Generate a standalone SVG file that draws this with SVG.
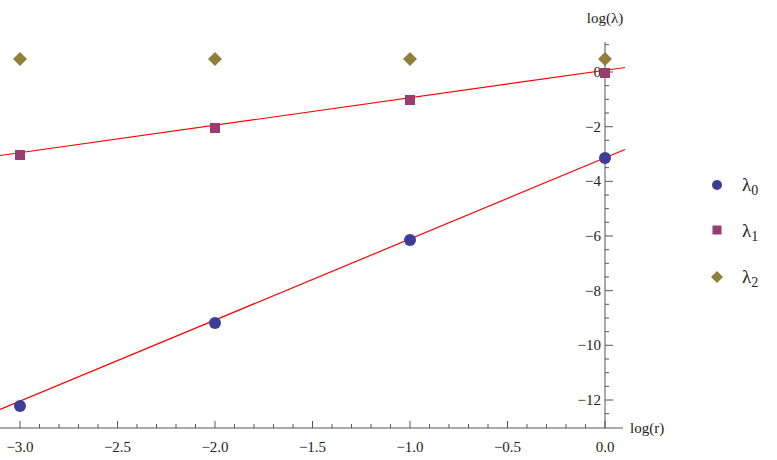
<svg xmlns="http://www.w3.org/2000/svg" width="777" height="460" viewBox="0 0 777 460" font-family="Liberation Serif, Times New Roman, DejaVu Serif, serif">
<style>
text{font-family:'Liberation Serif','Times New Roman','DejaVu Serif',serif;fill:#222}
.t{font-size:15px}
.ax{stroke:#555;stroke-width:1;fill:none}
.fit{stroke:#f00;stroke-width:1.2;fill:none}
.c0{fill:#3d3d99}.c1{fill:#993d6f}.c2{fill:#8f7f3a}
</style>
<rect width="777" height="460" fill="#fff"/>
<g id="axes">
<path class="ax" d="M0 428H623M605 42V428"/>
<path class="ax" d="M20 428v-7M117.5 428v-7M215 428v-7M312.5 428v-7M410 428v-7M507.5 428v-7M605 428v-7"/>
<path class="ax" d="M39.5 428v-4M59 428v-4M78.5 428v-4M98 428v-4M137 428v-4M156.5 428v-4M176 428v-4M195.5 428v-4M234.5 428v-4M254 428v-4M273.5 428v-4M293 428v-4M332 428v-4M351.5 428v-4M371 428v-4M390.5 428v-4M429.5 428v-4M449 428v-4M468.5 428v-4M488 428v-4M527 428v-4M546.5 428v-4M566 428v-4M585.5 428v-4"/>
<path class="ax" d="M605 72h8M605 126.7h8M605 181.3h8M605 236h8M605 290.7h8M605 345.3h8M605 400h8"/>
<path class="ax" d="M605 44.7h4M605 58.3h4M605 85.7h4M605 99.3h4M605 113h4M605 140.3h4M605 154h4M605 167.7h4M605 195h4M605 208.7h4M605 222.3h4M605 249.7h4M605 263.3h4M605 277h4M605 304.3h4M605 318h4M605 331.7h4M605 359h4M605 372.7h4M605 386.3h4M605 413.7h4"/>
<g class="t" text-anchor="middle">
<text x="20" y="452">−3.0</text><text x="117.5" y="452">−2.5</text><text x="215" y="452">−2.0</text><text x="312.5" y="452">−1.5</text><text x="410" y="452">−1.0</text><text x="507.5" y="452">−0.5</text><text x="605" y="452">0.0</text>
</g>
<g class="t" text-anchor="end">
<text x="601" y="77">0</text><text x="601" y="131.7">−2</text><text x="601" y="186.3">−4</text><text x="601" y="241">−6</text><text x="601" y="295.7">−8</text><text x="601" y="350.3">−10</text><text x="601" y="405">−12</text>
</g>
<text class="t" x="605" y="23" text-anchor="middle">log(λ)</text>
<text class="t" x="630" y="433">log(r)</text>
</g>
<g id="fits">
<path class="fit" d="M0 155.5L625 67.5"/>
<path class="fit" d="M0 409.5L625 149.5"/>
</g>
<g id="lambda2" class="c2">
<path d="M20 52l7 7-7 7-7-7z"/><path d="M215 52l7 7-7 7-7-7z"/><path d="M410 52l7 7-7 7-7-7z"/><path d="M605 52l7 7-7 7-7-7z"/>
</g>
<g id="lambda1" class="c1">
<rect x="15" y="150" width="10" height="10"/><rect x="210" y="123" width="10" height="10"/><rect x="405" y="95" width="10" height="10"/><rect x="600" y="68" width="10" height="10"/>
</g>
<g id="lambda0" class="c0">
<circle cx="20" cy="406" r="6"/><circle cx="215" cy="323" r="6"/><circle cx="410" cy="240" r="6"/><circle cx="605" cy="158" r="6"/>
</g>
<g id="legend">
<circle class="c0" cx="717" cy="185" r="5"/>
<rect class="c1" x="712.5" y="225.5" width="9" height="9"/>
<path class="c2" d="M717 271l6 6-6 6-6-6z"/>
<text x="742" y="191" font-size="19">λ<tspan font-size="14" dy="4">0</tspan></text>
<text x="742" y="237" font-size="19">λ<tspan font-size="14" dy="4">1</tspan></text>
<text x="742" y="283" font-size="19">λ<tspan font-size="14" dy="4">2</tspan></text>
</g>
</svg>
